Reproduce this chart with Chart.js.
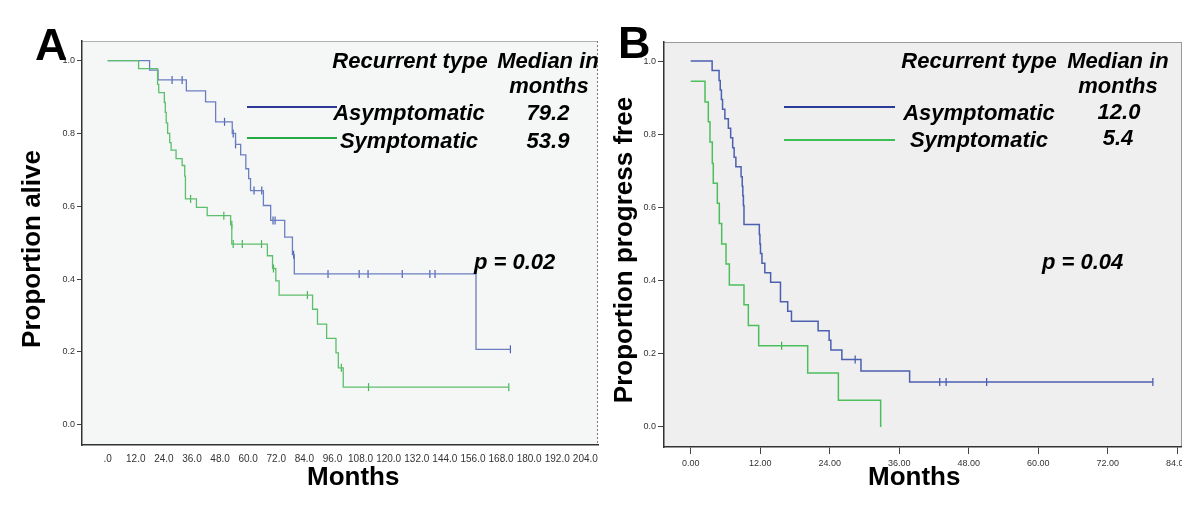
<!DOCTYPE html>
<html>
<head>
<meta charset="utf-8">
<script src="https://cdn.jsdelivr.net/npm/chart.js@4.4.0/dist/chart.umd.min.js"></script>
<style>
html,body{margin:0;padding:0;background:#fff;width:1200px;height:507px;overflow:hidden;position:relative;font-family:"Liberation Sans",Arial,sans-serif;}
.wrap{position:absolute;top:0;height:507px;overflow:hidden;}
canvas{position:absolute;left:0;top:0;}
.t{position:absolute;white-space:nowrap;font-weight:bold;color:#000;line-height:1;}
.c{text-align:center;width:200px;}
.i{font-style:italic;font-size:22px;}
.rot{transform:translate(-50%,-50%) rotate(-90deg);font-size:26px;}
.ln{position:absolute;height:2px;}
</style>
</head>
<body>
<div class="wrap" style="left:0;width:600px"><canvas id="cA" width="640" height="507"></canvas></div>
<div class="wrap" style="left:600px;width:582px"><canvas id="cB" width="620" height="507"></canvas></div>

<!-- Panel A texts -->
<div class="t" style="left:35px;top:22px;font-size:45px">A</div>
<div class="t rot" style="left:31px;top:249px">Proportion alive</div>
<div class="t" style="left:307px;top:463px;font-size:26px">Months</div>
<div class="t c i" style="left:310px;top:50px">Recurrent type</div>
<div class="t c i" style="left:448px;top:50px">Median in</div>
<div class="t c i" style="left:449px;top:75px">months</div>
<div class="t c i" style="left:309px;top:102px">Asymptomatic</div>
<div class="t c i" style="left:448px;top:102px">79.2</div>
<div class="t c i" style="left:309px;top:130px">Symptomatic</div>
<div class="t c i" style="left:448px;top:130px">53.9</div>
<div class="t i" style="left:474px;top:251px">p = 0.02</div>
<div class="ln" style="left:247px;width:90px;top:106px;background:#2d3996"></div>
<div class="ln" style="left:247px;width:90px;top:137px;background:#26a843"></div>

<!-- Panel B texts -->
<div class="t" style="left:618px;top:20px;font-size:45px">B</div>
<div class="t rot" style="left:623px;top:250px">Proportion progress free</div>
<div class="t" style="left:868px;top:463px;font-size:26px">Months</div>
<div class="t c i" style="left:879px;top:50px">Recurrent type</div>
<div class="t c i" style="left:1018px;top:50px">Median in</div>
<div class="t c i" style="left:1018px;top:75px">months</div>
<div class="t c i" style="left:879px;top:102px">Asymptomatic</div>
<div class="t c i" style="left:1019px;top:101px">12.0</div>
<div class="t c i" style="left:879px;top:129px">Symptomatic</div>
<div class="t c i" style="left:1018px;top:127px">5.4</div>
<div class="t i" style="left:1042px;top:251px">p = 0.04</div>
<div class="ln" style="left:784px;width:111px;top:106px;background:#2a3a99"></div>
<div class="ln" style="left:784px;width:111px;top:139px;background:#3cbf55"></div>

<script>
// ---------- Data: Panel A (overall survival) ----------
const monthsA_asym = [0, 17.9, 21.5, 33.6, 41.8, 46.1, 53.2, 54.6, 56.8, 59.0, 60.2, 61.0, 66.5, 69.6, 75.6, 78.9, 79.7, 157.3, 172.0];
const survA_asym   = [1.0, 0.974, 0.947, 0.917, 0.887, 0.832, 0.800, 0.770, 0.741, 0.703, 0.676, 0.643, 0.602, 0.561, 0.515, 0.467, 0.414, 0.207, 0.207];
const censA_asym_t = [27.5, 31.8, 49.9, 53.6, 54.6, 62.5, 65.8, 70.6, 71.5, 79.4, 94.1, 107.4, 111.2, 125.8, 137.6, 139.8, 172.0];
const censA_asym_v = [0.947, 0.947, 0.832, 0.800, 0.770, 0.643, 0.643, 0.561, 0.561, 0.467, 0.414, 0.414, 0.414, 0.414, 0.414, 0.414, 0.207];

const monthsA_sym = [0, 13.2, 21.3, 21.8, 24.2, 24.6, 25.0, 25.6, 26.5, 27.1, 29.2, 31.8, 32.9, 33.2, 37.9, 42.5, 52.5, 53.0, 68.2, 70.4, 71.8, 73.2, 87.5, 89.6, 93.5, 97.5, 98.5, 100.6, 171.3];
const survA_sym   = [1.0, 0.978, 0.935, 0.912, 0.885, 0.858, 0.829, 0.800, 0.775, 0.754, 0.731, 0.712, 0.683, 0.620, 0.597, 0.574, 0.549, 0.496, 0.464, 0.429, 0.395, 0.356, 0.317, 0.276, 0.237, 0.197, 0.156, 0.103, 0.103];
const censA_sym_t = [35.4, 49.6, 53.0, 53.6, 57.5, 65.7, 70.8, 85.3, 99.8, 111.4, 171.3];
const censA_sym_v = [0.620, 0.574, 0.549, 0.496, 0.496, 0.496, 0.429, 0.356, 0.156, 0.103, 0.103];

// ---------- Data: Panel B (progression free) ----------
const monthsB_asym = [0, 3.7, 4.9, 5.1, 5.3, 5.5, 5.9, 6.5, 6.9, 7.25, 7.5, 7.8, 8.7, 8.9, 9.0, 9.1, 9.2, 11.85, 11.95, 12.05, 12.3, 12.8, 13.8, 15.5, 16.75, 17.4, 22.0, 23.9, 24.2, 26.1, 29.4, 37.8, 79.8];
const survB_asym   = [1.0, 0.974, 0.947, 0.921, 0.895, 0.868, 0.842, 0.816, 0.790, 0.763, 0.737, 0.711, 0.684, 0.658, 0.632, 0.605, 0.553, 0.526, 0.500, 0.474, 0.447, 0.421, 0.395, 0.342, 0.316, 0.289, 0.263, 0.237, 0.210, 0.184, 0.153, 0.123, 0.123];
const censB_asym_t = [28.4, 43.0, 44.1, 51.1, 79.8];
const censB_asym_v = [0.184, 0.123, 0.123, 0.123, 0.123];

const monthsB_sym = [0, 2.47, 3.04, 3.33, 3.73, 3.9, 4.6, 4.94, 5.35, 6.1, 6.67, 9.2, 9.95, 11.74, 20.2, 25.5, 32.8];
const survB_sym   = [0.945, 0.888, 0.834, 0.779, 0.720, 0.666, 0.611, 0.556, 0.500, 0.445, 0.388, 0.334, 0.277, 0.222, 0.147, 0.073, 0.0];
const censB_sym_t = [15.7];
const censB_sym_v = [0.222];

// ---------- Tick labels ----------
const xTicksA  = [0, 12, 24, 36, 48, 60, 72, 84, 96, 108, 120, 132, 144, 156, 168, 180, 192, 204];
const xLabelsA = ['.0','12.0','24.0','36.0','48.0','60.0','72.0','84.0','96.0','108.0','120.0','132.0','144.0','156.0','168.0','180.0','192.0','204.0'];
const xTicksB  = [0, 12, 24, 36, 48, 60, 72, 84];
const xLabelsB = ['0.00','12.00','24.00','36.00','48.00','60.00','72.00','84.00'];
const yTicks   = [0, 0.2, 0.4, 0.6, 0.8, 1.0];
const yLabels  = ['0.0','0.2','0.4','0.6','0.8','1.0'];

const pts = (t, v) => t.map((x, i) => ({x: x, y: v[i]}));

const panelBg = {
  id: 'panelBg',
  beforeDraw(chart, args, o) {
    const {ctx, chartArea: a} = chart;
    ctx.save();
    ctx.fillStyle = o.fill;
    ctx.fillRect(a.left, a.top, a.right - a.left, a.bottom - a.top);
    ctx.lineWidth = 1;
    ctx.strokeStyle = o.top;
    ctx.beginPath(); ctx.moveTo(a.left, a.top + 0.5); ctx.lineTo(a.right, a.top + 0.5); ctx.stroke();
    ctx.strokeStyle = o.right;
    ctx.setLineDash(o.dash || []);
    ctx.beginPath(); ctx.moveTo(a.right - 0.5, a.top); ctx.lineTo(a.right - 0.5, a.bottom); ctx.stroke();
    ctx.restore();
  }
};

function curve(data, color, w) {
  return {data: data, stepped: 'before', borderColor: color, borderWidth: w, pointRadius: 0, fill: false, tension: 0};
}
function marks(data, color) {
  return {data: data, showLine: false, borderColor: color, backgroundColor: color, pointStyle: 'line', rotation: 90, pointRadius: 4, borderWidth: 1.2, pointHoverRadius: 0};
}

function makeChart(id, cfg) {
  return new Chart(document.getElementById(id), {
    type: 'line',
    data: {datasets: cfg.datasets},
    plugins: [panelBg],
    options: {
      responsive: false,
      animation: false,
      events: [],
      layout: {padding: cfg.padding},
      plugins: {legend: {display: false}, tooltip: {enabled: false}, panelBg: cfg.bg},
      scales: {
        x: {
          type: 'linear', min: cfg.xmin, max: cfg.xmax,
          afterFit: s => { s.height = 30; },
          afterBuildTicks: s => { s.ticks = cfg.xTicks.map(v => ({value: v})); },
          grid: {drawOnChartArea: false, drawTicks: cfg.xTickLen > 0, tickLength: cfg.xTickLen, color: '#444', tickWidth: 1},
          border: {display: true, color: '#333', width: 1.5},
          ticks: {autoSkip: false, maxRotation: 0, minRotation: 0, padding: cfg.xPad, color: '#333',
                  font: {family: '"Liberation Sans", Arial, sans-serif', size: cfg.xFont},
                  callback: (v, i) => cfg.xLabels[i]}
        },
        y: {
          type: 'linear', min: cfg.ymin, max: cfg.ymax,
          afterFit: s => { s.width = 30; },
          afterBuildTicks: s => { s.ticks = yTicks.map(v => ({value: v})); },
          grid: {drawOnChartArea: false, drawTicks: true, tickLength: cfg.yTickLen, color: '#444', tickWidth: 1},
          border: {display: true, color: '#333', width: 1.5},
          ticks: {padding: 2, color: '#333',
                  font: {family: '"Liberation Sans", Arial, sans-serif', size: 9},
                  callback: (v, i) => yLabels[i]}
        }
      }
    }
  });
}

makeChart('cA', {
  datasets: [
    curve(pts(monthsA_sym, survA_sym), '#5dbf6b', 1.3),
    marks(pts(censA_sym_t, censA_sym_v), '#4bb35a'),
    curve(pts(monthsA_asym, survA_asym), '#6b7ec2', 1.3),
    marks(pts(censA_asym_t, censA_asym_v), '#4f62b3')
  ],
  padding: {left: 52, top: 41, right: 42, bottom: 32},
  xmin: -10.97, xmax: 209.4, ymin: -0.056, ymax: 1.054,
  xTicks: xTicksA, xLabels: xLabelsA, xTickLen: 0, xPad: 8, xFont: 10, yTickLen: 5,
  bg: {fill: '#f5f7f6', top: '#b0b0b0', right: '#777', dash: [2, 2]}
});

makeChart('cB', {
  datasets: [
    curve(pts(monthsB_sym, survB_sym), '#4cbf5c', 1.5),
    marks(pts(censB_sym_t, censB_sym_v), '#3cae4c'),
    curve(pts(monthsB_asym, survB_asym), '#4c60b0', 1.5),
    marks(pts(censB_asym_t, censB_asym_v), '#3f53a8')
  ],
  padding: {left: 34, top: 42, right: 38, bottom: 30},
  xmin: -4.61, xmax: 84.83, ymin: -0.055, ymax: 1.052,
  xTicks: xTicksB, xLabels: xLabelsB, xTickLen: 7, xPad: 4, xFont: 9, yTickLen: 6,
  bg: {fill: '#efefef', top: '#999', right: '#999', dash: []}
});
</script>
</body>
</html>
